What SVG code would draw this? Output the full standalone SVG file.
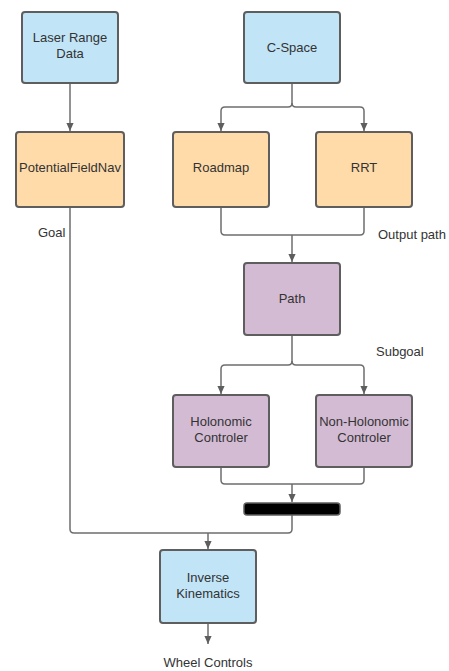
<svg xmlns="http://www.w3.org/2000/svg" width="449" height="671" viewBox="0 0 449 671">
<defs>
<style>
.node{stroke:#5e5e5e;stroke-width:2}
.blue{fill:#c1e4f7}
.orange{fill:#ffdba9}
.purple{fill:#d3bbd3}
.bar{fill:#000;stroke:#5e5e5e;stroke-width:1.5}
.lbl{font-family:"Liberation Sans",Arial,sans-serif;font-size:13px;fill:#333;text-anchor:middle}
.note{font-family:"Liberation Sans",Arial,sans-serif;font-size:13px;fill:#333}
.edge{fill:none;stroke:#6e6e6e;stroke-width:1.5}
</style>
<marker id="arr" viewBox="0 0 10 10" refX="10" refY="5" markerWidth="8" markerHeight="8" markerUnits="userSpaceOnUse" orient="auto">
<path d="M0,0.5 L10,5 L0,9.5 Z" fill="#5e5e5e"/>
</marker>
</defs>
<rect width="449" height="671" fill="#fff"/>
<g id="connectors">
<path class="edge" d="M70,83 V131" marker-end="url(#arr)"/>
<path class="edge" d="M292,83 V103 Q292,107 288,107 H225 Q221,107 221,111 V131" marker-end="url(#arr)"/>
<path class="edge" d="M292,103 Q292,107 296,107 H360 Q364,107 364,111 V131" marker-end="url(#arr)"/>
<path class="edge" d="M221,207 V231 Q221,235 225,235 H360 Q364,235 364,231 V207"/>
<path class="edge" d="M292,235 V262" marker-end="url(#arr)"/>
<path class="edge" d="M292,335 V361 Q292,365 288,365 H225 Q221,365 221,369 V394" marker-end="url(#arr)"/>
<path class="edge" d="M292,361 Q292,365 296,365 H360 Q364,365 364,369 V394" marker-end="url(#arr)"/>
<path class="edge" d="M221,467 V480 Q221,484 225,484 H360 Q364,484 364,480 V467"/>
<path class="edge" d="M292,484 V502" marker-end="url(#arr)"/>
<path class="edge" d="M70,207 V529 Q70,533 74,533 H288 Q292,533 292,529 V515"/>
<path class="edge" d="M208,533 V549" marker-end="url(#arr)"/>
<path class="edge" d="M208,623 V644" marker-end="url(#arr)"/>
</g>
<g id="laser">
<rect class="node blue" x="22" y="12" width="96" height="71" rx="3"/>
<text class="lbl" x="70" y="42">Laser Range</text>
<text class="lbl" x="70" y="58">Data</text>
</g>
<g id="cspace">
<rect class="node blue" x="244" y="12" width="96" height="71" rx="3"/>
<text class="lbl" x="292" y="52">C-Space</text>
</g>
<g id="pfn">
<rect class="node orange" x="16" y="132" width="108" height="75" rx="3"/>
<text class="lbl" x="70" y="172">PotentialFieldNav</text>
</g>
<g id="roadmap">
<rect class="node orange" x="173" y="132" width="96" height="75" rx="3"/>
<text class="lbl" x="221" y="172">Roadmap</text>
</g>
<g id="rrt">
<rect class="node orange" x="316" y="132" width="96" height="75" rx="3"/>
<text class="lbl" x="364" y="172">RRT</text>
</g>
<g id="path">
<rect class="node purple" x="244" y="263" width="96" height="72" rx="3"/>
<text class="lbl" x="292" y="303">Path</text>
</g>
<g id="holo">
<rect class="node purple" x="173" y="395" width="96" height="72" rx="3"/>
<text class="lbl" x="221" y="426">Holonomic</text>
<text class="lbl" x="221" y="442">Controler</text>
</g>
<g id="nonholo">
<rect class="node purple" x="316" y="395" width="96" height="72" rx="3"/>
<text class="lbl" x="364" y="426">Non-Holonomic</text>
<text class="lbl" x="364" y="442">Controler</text>
</g>
<g id="join">
<rect class="bar" x="244" y="503" width="96" height="12" rx="3"/>
</g>
<g id="ik">
<rect class="node blue" x="160" y="550" width="96" height="73" rx="3"/>
<text class="lbl" x="208" y="582">Inverse</text>
<text class="lbl" x="208" y="598">Kinematics</text>
</g>
<g id="labels">
<text class="note" x="38" y="237">Goal</text>
<text class="note" x="378" y="239">Output path</text>
<text class="note" x="376" y="356">Subgoal</text>
<text class="lbl" x="208" y="667">Wheel Controls</text>
</g>
</svg>
